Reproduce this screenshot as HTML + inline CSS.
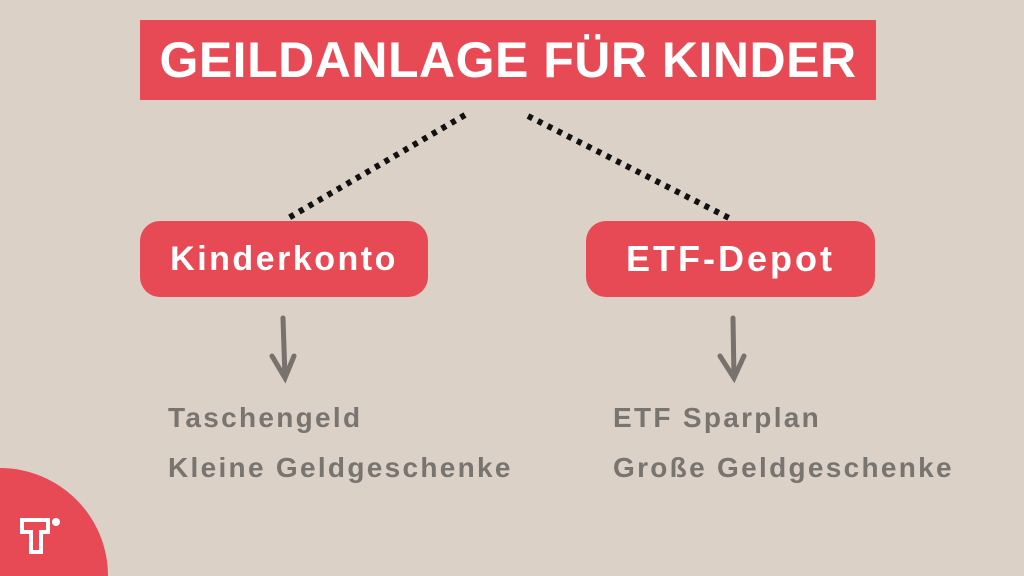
<!DOCTYPE html>
<html style="overflow:hidden"><head><style>
html,body{margin:0;padding:0}
body{width:1024px;height:576px;background:#dcd1c7;position:relative;overflow:hidden;font-family:"Liberation Sans",sans-serif;font-weight:bold}
.box{position:absolute;background:#e84a55;color:#fff;display:flex;align-items:center;justify-content:center}
.t{position:absolute;color:#787470;font-size:28px;letter-spacing:2.3px;white-space:nowrap}
</style></head><body>
<div class="box" style="left:140px;top:20px;width:736px;height:80px;font-size:50px;letter-spacing:0.5px">GEILDANLAGE FÜR KINDER</div>
<div class="box" style="left:140px;top:221px;width:288px;height:76px;border-radius:20px;font-size:34px;letter-spacing:2.5px">Kinderkonto</div>
<div class="box" style="left:586px;top:221px;width:289px;height:76px;border-radius:20px;font-size:36px;letter-spacing:3px">ETF-Depot</div>
<svg width="1024" height="576" style="position:absolute;left:0;top:0;display:block">
<g stroke="#111" stroke-width="6" stroke-dasharray="5 6">
<line x1="465" y1="115" x2="285" y2="220"/>
<line x1="528" y1="116" x2="733" y2="220"/>
</g>
<g stroke="#77726d" stroke-width="5" fill="none" stroke-linecap="round">
<path d="M283 318 L285 378 M272 356 L285 378 L294 356"/>
<path d="M733 318 L734 378 M720 356 L734 378 L744 356"/>
</g>
<circle cx="0" cy="576" r="108" fill="#e84a55"/>
<path d="M22 520 h26 v12 h-7 v20 h-10 v-20 h-9z" fill="none" stroke="#fff" stroke-width="4"/>
<circle cx="56" cy="522" r="4" fill="#fff"/>
</svg>
<div class="t" style="left:168px;top:402px">Taschengeld</div>
<div class="t" style="left:168px;top:452px">Kleine Geldgeschenke</div>
<div class="t" style="left:613px;top:402px">ETF Sparplan</div>
<div class="t" style="left:613px;top:452px">Große Geldgeschenke</div>
</body></html>
